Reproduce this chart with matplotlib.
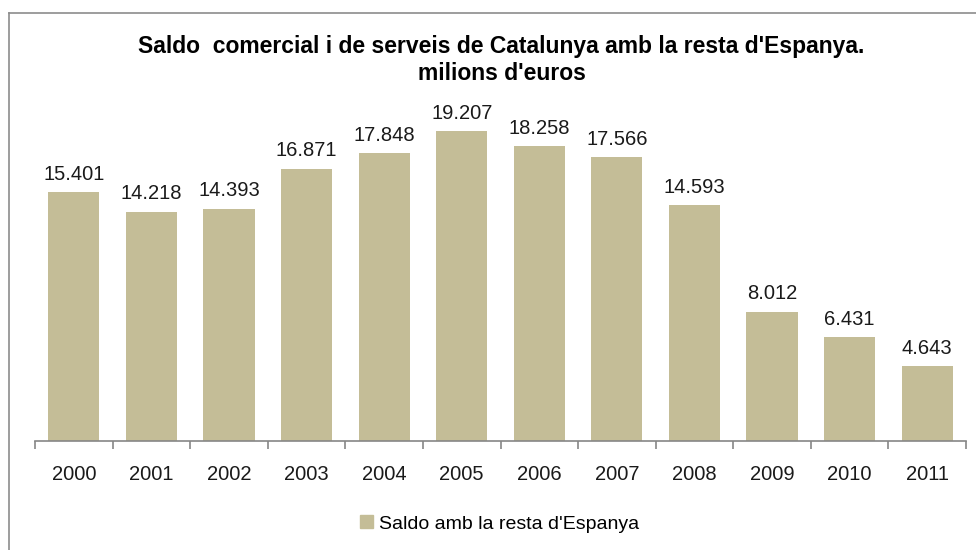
import matplotlib.pyplot as plt
from matplotlib.patches import Patch
from matplotlib.lines import Line2D

plt.rcParams['font.family'] = ['Liberation Sans', 'DejaVu Sans']

anys = ['2000', '2001', '2002', '2003', '2004', '2005', '2006', '2007', '2008', '2009', '2010', '2011']
saldo = [15401, 14218, 14393, 16871, 17848, 19207, 18258, 17566, 14593, 8012, 6431, 4643]
etiquetes = ['15.401', '14.218', '14.393', '16.871', '17.848', '19.207', '18.258', '17.566', '14.593', '8.012', '6.431', '4.643']

color_barra = '#C4BD97'
gris = '#868686'

fig = plt.figure(figsize=(9.76, 5.5), dpi=100)

# marc del grafic (només es veuen la vora esquerra i la superior)
fig.add_artist(Line2D([9/976, 9/976], [0, 1 - 13/550], color='#8c8c8c', lw=1.2))
fig.add_artist(Line2D([9/976, 1], [1 - 13/550, 1 - 13/550], color='#8c8c8c', lw=1.2))

ax = fig.add_axes([35/976, 109/550, 931/976, 341/550])

x = range(len(anys))
ax.bar(x, saldo, width=0.66, color=color_barra)

for i, v in enumerate(saldo):
    ax.annotate(etiquetes[i], (i, v), xytext=(0, 6), textcoords='offset points',
                ha='center', va='bottom', fontsize=14.5, color='#1a1a1a')

ax.set_xlim(-0.5, len(anys) - 0.5)
ax.set_ylim(0, 21127)

for s in ['top', 'right', 'left']:
    ax.spines[s].set_visible(False)
ax.spines['bottom'].set_color(gris)
ax.spines['bottom'].set_linewidth(1.2)

ax.set_yticks([])
ax.set_xticks([i - 0.5 for i in range(len(anys) + 1)])
ax.set_xticklabels([])
ax.set_xticks(list(x), minor=True)
ax.set_xticklabels(anys, minor=True, fontsize=14.5, color='#1a1a1a')
ax.tick_params(axis='x', which='major', length=6, color=gris, width=1.2)
ax.tick_params(axis='x', which='minor', length=0, pad=17)

fig.text(0.514, 1 - 46/550, "Saldo  comercial i de serveis de Catalunya amb la resta d'Espanya.",
         ha='center', va='center', fontsize=16.5, fontweight='bold')
fig.text(0.514, 1 - 74/550, "milions d'euros",
         ha='center', va='center', fontsize=16.5, fontweight='bold')

fig.legend(handles=[Patch(color=color_barra, label="Saldo amb la resta d'Espanya")],
           loc='center', bbox_to_anchor=(0.512, 1 - 524/550), frameon=False,
           fontsize=14, handlelength=0.65, handleheight=0.65, handletextpad=0.3)

fig.savefig('out.png', dpi=100)
